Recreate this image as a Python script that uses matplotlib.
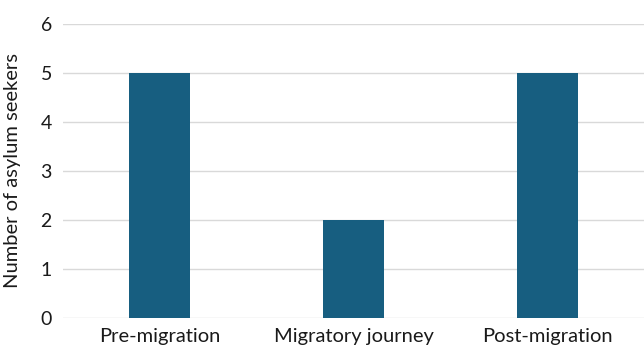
import matplotlib
matplotlib.use("Agg")
import matplotlib.pyplot as plt

categories = ["Pre-migration", "Migratory journey", "Post-migration"]
values = [5, 2, 5]
yticks = [0, 1, 2, 3, 4, 5, 6]

plt.rcParams['font.family'] = ['Lato', 'DejaVu Sans']

fig = plt.figure(figsize=(6.44, 3.45), dpi=100)
ax = fig.add_axes([63/644, 27/345, 581/644, (318-24)/345])

x = list(range(len(categories)))
ax.bar(x, values, width=0.315, color="#175E80", zorder=3)
ax.set_xlim(-0.5, 2.5)
ax.set_ylim(0, 6)
ax.set_yticks(yticks)
ax.set_yticklabels([str(t) for t in yticks], fontsize=14, color="#1a1a1a")
ax.set_xticks(x)
ax.set_xticklabels(categories, fontsize=14.5, color="#1a1a1a")
ax.grid(axis='y', color="#d9d9d9", linewidth=1, zorder=0)
for s in ax.spines.values():
    s.set_visible(False)
ax.tick_params(axis='both', length=0)
ax.tick_params(axis='y', pad=8)
ax.tick_params(axis='x', pad=7)
ax.set_ylabel("Number of asylum seekers", fontsize=14.5, color="#1a1a1a", labelpad=14)

fig.savefig("out.png", dpi=100)
